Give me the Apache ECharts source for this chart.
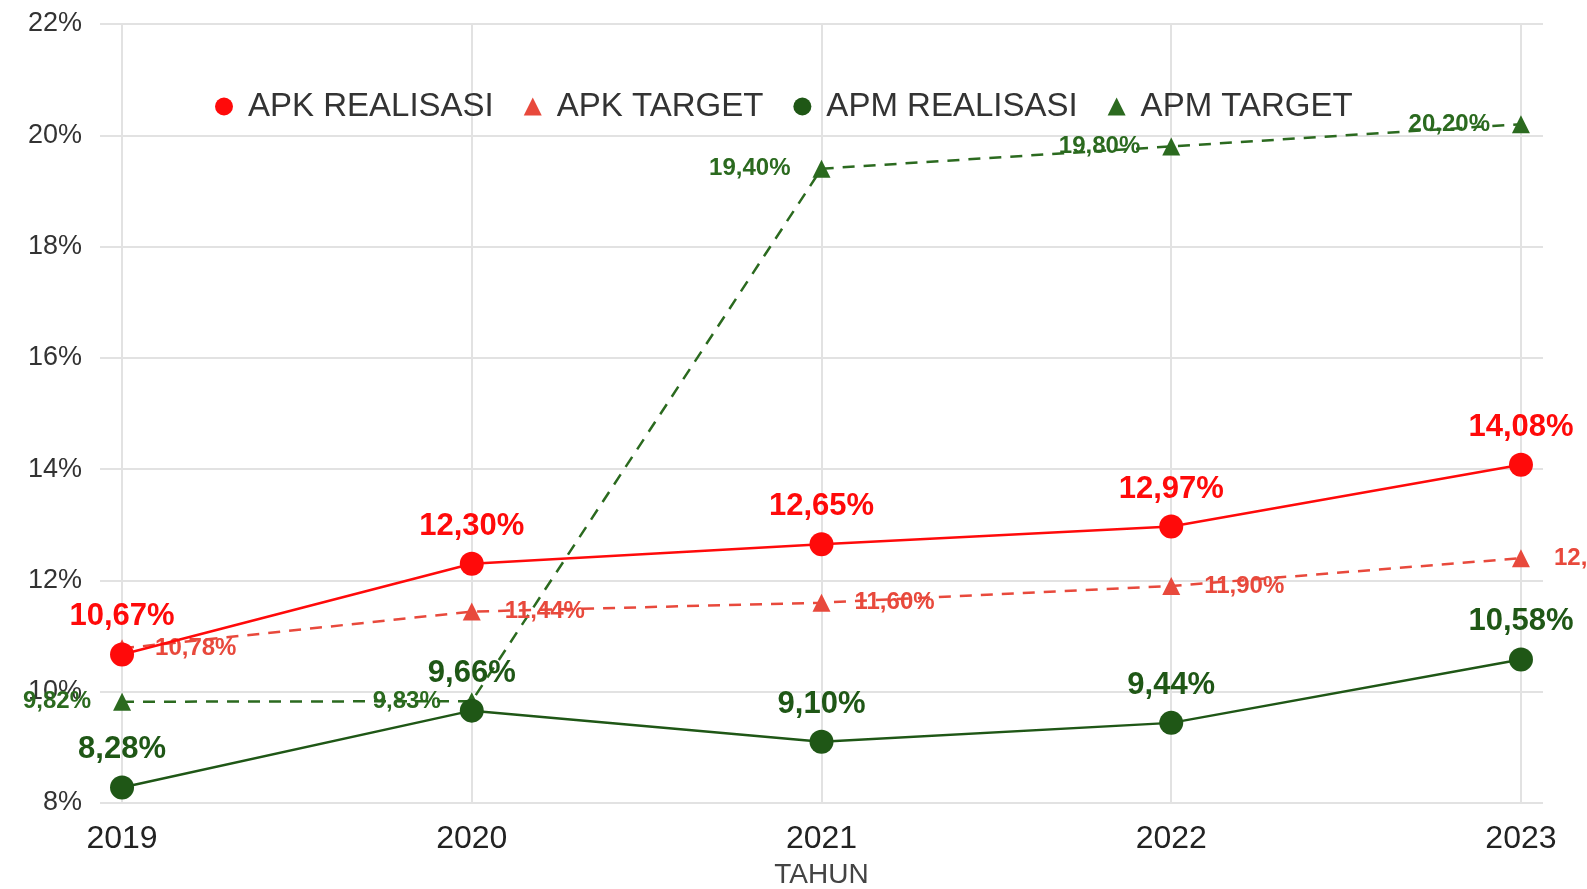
<!DOCTYPE html>
<html>
<head>
<meta charset="utf-8">
<script src="https://cdn.jsdelivr.net/npm/echarts@6/dist/echarts.min.js"></script>
<style>
  html, body { margin: 0; padding: 0; background: #fff; }
  #main { width: 1587px; height: 889px; }
</style>
</head>
<body>
<div id="main"></div>
<script>
// data
var years = [2019, 2020, 2021, 2022, 2023];
var apkRealisasi = [10.67, 12.30, 12.65, 12.97, 14.08];
var apkTarget = [10.78, 11.44, 11.60, 11.90, 12.40];
var apmRealisasi = [8.28, 9.66, 9.10, 9.44, 10.58];
var apmTarget = [9.82, 9.83, 19.40, 19.80, 20.20];
var yTicks = [8, 10, 12, 14, 16, 18, 20, 22];

var RED = '#ff0a0a';
var RED_T = '#e8493c';
var GREEN = '#1f5716';
var GREEN_T = '#2b6a1f';
var FONT = '"Liberation Sans", Arial, sans-serif';

function pairs(vals) {
    return years.map(function (y, i) { return [y, vals[i]]; });
}
function pct(p) {
    return p.value[1].toFixed(2).replace('.', ',') + '%';
}

var myChart = echarts.init(document.getElementById('main'));

var options = {
    backgroundColor: '#fff',
    textStyle: { fontFamily: FONT },
    grid: { left: 100, right: 44, top: 24, bottom: 86, containLabel: false, outerBoundsMode: 'none' },
    legend: {
        top: 85,
        left: 210,
        itemGap: 30,
        itemWidth: 18,
        itemHeight: 18,
        textStyle: { fontSize: 33, color: '#333', fontFamily: FONT, padding: [0, 0, 0, 10] },
        data: [
            { name: 'APK REALISASI', icon: 'circle' },
            { name: 'APK TARGET', icon: 'triangle' },
            { name: 'APM REALISASI', icon: 'circle' },
            { name: 'APM TARGET', icon: 'triangle' }
        ]
    },
    xAxis: {
        type: 'value',
        min: 2018.937,
        max: 2023.063,
        name: 'TAHUN',
        nameLocation: 'middle',
        nameGap: 58,
        nameTextStyle: { fontSize: 28, color: '#444' },
        axisLine: { show: false },
        axisTick: { show: false, customValues: years },
        axisLabel: {
            customValues: years,
            margin: 20,
            fontSize: 32,
            color: '#222',
            formatter: function (v) { return String(v); }
        },
        splitLine: { show: true, lineStyle: { color: '#e2e2e2', width: 2 } }
    },
    yAxis: {
        type: 'value',
        min: yTicks[0],
        max: yTicks[yTicks.length - 1],
        interval: 2,
        axisLine: { show: false },
        axisTick: { show: false },
        axisLabel: {
            margin: 18,
            fontSize: 27,
            color: '#333',
            formatter: '{value}%'
        },
        splitLine: { lineStyle: { color: '#e2e2e2', width: 2 } }
    },
    series: [{
        name: 'APK REALISASI',
        type: 'line',
        data: pairs(apkRealisasi),
        symbol: 'circle',
        symbolSize: 24,
        z: 4,
        itemStyle: { color: RED },
        lineStyle: { color: RED, width: 2.5 },
        label: {
            show: true, position: 'top', distance: 10,
            color: RED, fontSize: 31, fontWeight: 'bold', formatter: pct
        }
    }, {
        name: 'APK TARGET',
        type: 'line',
        data: pairs(apkTarget),
        symbol: 'triangle',
        symbolSize: 18,
        z: 3,
        itemStyle: { color: RED_T },
        lineStyle: { color: RED_T, width: 2.5, type: [12, 9] },
        label: {
            show: true, position: 'right', distance: 24,
            color: RED_T, fontSize: 24, fontWeight: 'bold', formatter: pct
        }
    }, {
        name: 'APM REALISASI',
        type: 'line',
        data: pairs(apmRealisasi),
        symbol: 'circle',
        symbolSize: 24,
        z: 4,
        itemStyle: { color: GREEN },
        lineStyle: { color: GREEN, width: 2.5 },
        label: {
            show: true, position: 'top', distance: 10,
            color: GREEN, fontSize: 31, fontWeight: 'bold', formatter: pct
        }
    }, {
        name: 'APM TARGET',
        type: 'line',
        data: pairs(apmTarget),
        symbol: 'triangle',
        symbolSize: 18,
        z: 3,
        itemStyle: { color: GREEN_T },
        lineStyle: { color: GREEN_T, width: 2.5, type: [12, 9] },
        label: {
            show: true, position: 'left', distance: 22,
            color: GREEN_T, fontSize: 24, fontWeight: 'bold', formatter: pct
        }
    }]
};

myChart.setOption(options);
</script>
</body>
</html>
